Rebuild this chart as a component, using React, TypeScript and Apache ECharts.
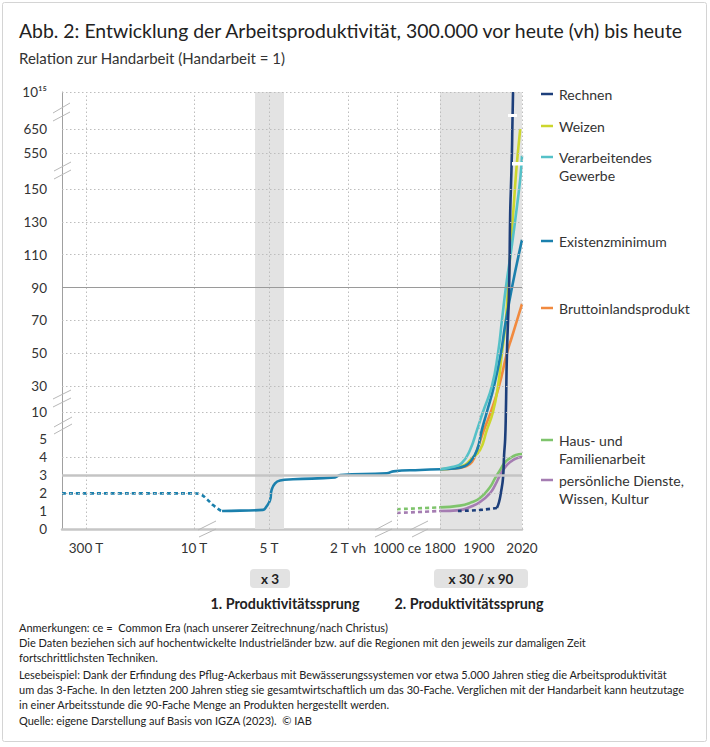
import React, { useEffect, useRef } from "react";
import * as echarts from "echarts";

// ---------- ticks ----------
const xTickYears = [-300000, -10000, -5000, -2000, 1000, 1800, 1900, 2020];
const xTickLabels = ["300 T", "10 T", "5 T", "2 T vh", "1000 ce", "1800", "1900", "2020"];
const yTickValues = [0, 1, 2, 3, 4, 5, 10, 30, 50, 70, 90, 110, 130, 150, 550, 650, 1e15];
const yTickLabels = ["0", "1", "2", "3", "4", "5", "10", "30", "50", "70", "90", "110", "130", "150", "550", "650", "10¹⁵"];
const yDottedGrid = [2, 4, 10, 30, 50, 70, 110, 130, 150, 550, 650, 1e15];

// ---------- data: years and productivity (Handarbeit = 1) ----------
const historyDashedYears = [-365000, -10000, -9600, -9130, -8730, -8270, -8130];
const historyDashedValues = [1.98, 1.98, 1.93, 1.65, 1.33, 1.05, 1.0];
const historySolidYears = [-8130, -6930, -5400, -5180, -4960, -4900, -4770, -4580, -4090, -2490, -2300, 370, 770, 1430, 1800];
const historySolidValues = [1.0, 1.02, 1.06, 1.24, 1.6, 2.17, 2.54, 2.69, 2.76, 2.87, 3.0, 3.09, 3.2, 3.28, 3.32];

const rechnenDashedYears = [1846, 1903, 1950];
const rechnenDashedValues = [1.0, 1.06, 1.17];
const rechnenYears = [1950, 1956, 1961, 1967, 1970, 1973, 1975, 1978, 1984, 1987, 1989, 1992, 1993, 1995];
const rechnenValues = [1.17, 1.5, 2.0, 2.83, 4.1, 5, 10, 50, 90, 135, 150, 560, 650, 1e15];

const weizenYears = [1800, 1838, 1864, 1882, 1903, 1922, 1939, 1953, 1964, 1975, 1981, 1989, 1998, 2003, 2009, 2015];
const weizenValues = [3.32, 3.39, 3.56, 3.94, 4.39, 6.7, 10, 30, 50, 70, 90, 116, 143, 305, 560, 650];

const gewerbeYears = [1800, 1831, 1856, 1877, 1895, 1911, 1936, 1953, 1964, 1975, 1992, 2008, 2016, 2020];
const gewerbeValues = [3.32, 3.44, 3.67, 4.39, 6.7, 10, 30, 50, 70, 90, 116, 143, 300, 520];

const existenzYears = [1800, 1838, 1864, 1877, 1895, 1908, 1922, 1942, 1961, 1973, 1992, 2020];
const existenzValues = [3.32, 3.36, 3.5, 3.72, 4.39, 6.7, 10, 30, 50, 67, 90, 119];

const bipYears = [1800, 1838, 1864, 1882, 1895, 1914, 1933, 1956, 1978, 1992, 2006, 2020];
const bipValues = [3.32, 3.36, 3.47, 3.72, 4.39, 6.7, 10, 30, 50, 60, 70, 80];

const hausDashedYears = [1000, 1800];
const hausDashedValues = [1.1, 1.2];
const hausYears = [1800, 1851, 1877, 1903, 1931, 1945, 1959, 1973, 1987, 2003, 2020];
const hausValues = [1.2, 1.3, 1.45, 1.72, 2.33, 2.83, 3.28, 3.72, 3.94, 4.11, 4.17];

const diensteDashedYears = [1000, 1800];
const diensteDashedValues = [0.89, 1.0];
const diensteYears = [1800, 1851, 1877, 1903, 1931, 1945, 1959, 1973, 1987, 2003, 2020];
const diensteValues = [1.0, 1.05, 1.22, 1.5, 2.0, 2.44, 3.0, 3.44, 3.72, 3.92, 4.0];

const bandYears = [[-5930, -4430], [1800, 2020]];

// ---------- scale definitions (broken axes) ----------
const XA_YEARS = [-365000, -300000, -10000, -5000, -2000, 1000, 1800, 1900, 2020];
const XA_POS = [62, 86, 194, 269, 348, 397, 440, 479, 522];
const YA_VALS = [0, 5, 10, 30, 150, 550, 650];
const YA_POS = [0, 90, 117, 143, 340, 376, 400];

function interp(xs: number[], ys: number[], v: number) {
  let i = 0;
  while (i < xs.length - 2 && v > xs[i + 1]) i++;
  const t = (v - xs[i]) / (xs[i + 1] - xs[i]);
  return ys[i] + t * (ys[i + 1] - ys[i]);
}
const xPos = (year: number) => interp(XA_YEARS, XA_POS, year);
const yPos = (v: number) => {
  if (v <= 650) return interp(YA_VALS, YA_POS, v);
  const t = Math.log(v / 650) / Math.log(1e15 / 650);
  return 400 + t * 37;
};
const pts = (years: number[], vals: number[]) => years.map((y, i) => [xPos(y), yPos(vals[i])]);

const FONT = "Lato, 'Noto Sans', sans-serif";
const TXT = "#333333";

const C = {
  rechnen: "#1d3f7b",
  weizen: "#ccd62d",
  gewerbe: "#55c1c8",
  existenz: "#1b80ad",
  bip: "#f18a3f",
  haus: "#7fc46c",
  dienste: "#a57db2",
};

function lineSeries(name: string, data: number[][], color: string, dashed = false, z = 3) {
  return {
    type: "line",
    name,
    data,
    showSymbol: false,
    symbol: "none",
    smooth: 0.5,
    z,
    lineStyle: { color, width: 2.6, type: dashed ? [4, 3] : "solid", cap: "butt", join: "round" },
    silent: true,
  };
}

export default function App() {
  const ref = useRef<HTMLDivElement>(null);
  useEffect(() => {
    if (!ref.current) return;
    const chart = echarts.init(ref.current, null, { renderer: "svg" });

    const dotted = { color: "#bdbdbd", width: 1, type: [1.5, 2.5] };
    const gridLines: any[] = [];
    yDottedGrid.forEach((v) => gridLines.push({ yAxis: yPos(v), lineStyle: dotted }));
    xTickYears.forEach((y) => gridLines.push({ xAxis: xPos(y), lineStyle: dotted }));
    gridLines.push({ yAxis: yPos(3), lineStyle: { color: "#c4c4c4", width: 2.5, type: "solid" } });
    gridLines.push({ yAxis: yPos(90), lineStyle: { color: "#9a9a9a", width: 1, type: "solid" } });

    const legendItems = [
      { text: "Rechnen", color: C.rechnen, y: 94 },
      { text: "Weizen", color: C.weizen, y: 126 },
      { text: "Verarbeitendes\nGewerbe", color: C.gewerbe, y: 157 },
      { text: "Existenzminimum", color: C.existenz, y: 241 },
      { text: "Bruttoinlandsprodukt", color: C.bip, y: 308 },
      { text: "Haus- und\nFamilienarbeit", color: C.haus, y: 440 },
      { text: "persönliche Dienste,\nWissen, Kultur", color: C.dienste, y: 480 },
    ];

    const breakMarks = [
      // y axis
      [53, 113, 70, 103], [53, 121, 70, 112],
      [54, 171, 71, 162], [54, 179, 71, 170],
      [53, 399, 71, 390], [53, 407, 71, 398],
      [54, 427, 72, 417], [54, 434, 72, 424],
      // x axis
      [198, 530, 216, 521], [199, 537, 216, 529],
      [375, 530, 392, 521], [375, 537, 392, 529],
      [410, 530, 428, 521], [412, 537, 428, 529],
    ];

    // small white gaps where lines cross the axis breaks
    const lineGaps = [
      [508, 114, 9, 3],
      [512, 162, 14, 3.5],
    ];

    const graphics: any[] = [
      {
        type: "rect",
        shape: { x: 2.5, y: 2.5, width: 704, height: 739, r: 2 },
        style: { fill: "none", stroke: "#d4d4d4", lineWidth: 1 },
        silent: true,
      },
      {
        type: "text",
        x: 19,
        y: 30,
        style: { text: "Abb. 2: Entwicklung der Arbeitsproduktivität, 300.000 vor heute (vh) bis heute", fill: "#222", font: `19.4px ${FONT}`, textVerticalAlign: "middle" },
      },
      {
        type: "text",
        x: 19,
        y: 58,
        style: { text: "Relation zur Handarbeit (Handarbeit = 1)", fill: TXT, font: `15px ${FONT}`, textVerticalAlign: "middle" },
      },
      ...lineGaps.map((g) => ({
        type: "rect",
        shape: { x: g[0], y: g[1], width: g[2], height: g[3] },
        style: { fill: "#ffffff" },
        silent: true,
        z: 9,
      })),
      ...breakMarks.map((m) => ({
        type: "line",
        shape: { x1: m[0], y1: m[1], x2: m[2], y2: m[3] },
        style: { stroke: "#b8b8b8", lineWidth: 1 },
        silent: true,
        z: 10,
      })),
      ...legendItems.flatMap((it) => [
        {
          type: "line",
          shape: { x1: 541, y1: it.y, x2: 553, y2: it.y },
          style: { stroke: it.color, lineWidth: 2.5 },
        },
        {
          type: "text",
          x: 559,
          y: it.y - 9,
          style: { text: it.text, fill: TXT, font: `14px ${FONT}`, lineHeight: 18, textVerticalAlign: "top" },
        },
      ]),
      {
        type: "rect",
        shape: { x: 250, y: 569, width: 40, height: 19, r: 4 },
        style: { fill: "#e2e2e2" },
      },
      {
        type: "text",
        x: 270,
        y: 578.5,
        style: { text: "x 3", fill: "#222", font: `bold 13.5px ${FONT}`, textAlign: "center", textVerticalAlign: "middle" },
      },
      {
        type: "rect",
        shape: { x: 434, y: 569, width: 94, height: 19, r: 4 },
        style: { fill: "#e2e2e2" },
      },
      {
        type: "text",
        x: 481,
        y: 578.5,
        style: { text: "x 30 / x 90", fill: "#222", font: `bold 13.5px ${FONT}`, textAlign: "center", textVerticalAlign: "middle" },
      },
      {
        type: "text",
        x: 285,
        y: 603,
        style: { text: "1. Produktivitätssprung", fill: "#222", font: `bold 14.3px ${FONT}`, textAlign: "center", textVerticalAlign: "middle" },
      },
      {
        type: "text",
        x: 469,
        y: 603,
        style: { text: "2. Produktivitätssprung", fill: "#222", font: `bold 14.3px ${FONT}`, textAlign: "center", textVerticalAlign: "middle" },
      },
      ...[
        ["Anmerkungen: ce =  Common Era (nach unserer Zeitrechnung/nach Christus)", 627],
        ["Die Daten beziehen sich auf hochentwickelte Industrieländer bzw. auf die Regionen mit den jeweils zur damaligen Zeit", 642],
        ["fortschrittlichsten Techniken.", 657],
        ["Lesebeispiel: Dank der Erfindung des Pflug-Ackerbaus mit Bewässerungssystemen vor etwa 5.000 Jahren stieg die Arbeitsproduktivität", 674],
        ["um das 3-Fache. In den letzten 200 Jahren stieg sie gesamtwirtschaftlich um das 30-Fache. Verglichen mit der Handarbeit kann heutzutage", 689],
        ["in einer Arbeitsstunde die 90-Fache Menge an Produkten hergestellt werden.", 704],
        ["Quelle: eigene Darstellung auf Basis von IGZA (2023).  © IAB", 720],
      ].map(([t, y]) => ({
        type: "text",
        x: 19,
        y: y as number,
        style: { text: t as string, fill: "#222", font: `11px ${FONT}`, textVerticalAlign: "middle" },
      })),
    ];

    const labelFor = (ticksPos: number[], labels: string[]) => (v: number) => {
      for (let i = 0; i < ticksPos.length; i++) if (Math.abs(ticksPos[i] - v) < 0.6) return labels[i];
      return "";
    };
    const xTickPos = xTickYears.map(xPos);
    const yTickPos = yTickValues.map(yPos);

    chart.setOption({
      animation: false,
      grid: { left: 62, right: 188, top: 92, bottom: 218 },
      xAxis: {
        type: "value",
        min: 62,
        max: 522,
        axisLine: { show: true, onZero: false, lineStyle: { color: "#c6c6c6", width: 2.5 } },
        axisTick: { show: false },
        splitLine: { show: false },
        axisLabel: {
          customValues: xTickPos,
          formatter: labelFor(xTickPos, xTickLabels),
          color: TXT,
          fontSize: 13.5,
          fontFamily: FONT,
          margin: 12,
          showMinLabel: true,
          showMaxLabel: true,
          hideOverlap: false,
        },
      },
      yAxis: {
        type: "value",
        min: 0,
        max: 437,
        axisLine: { show: true, lineStyle: { color: "#a0a0a0", width: 1 } },
        axisTick: { show: false },
        splitLine: { show: false },
        axisLabel: {
          customValues: yTickPos,
          formatter: labelFor(yTickPos, yTickLabels),
          color: TXT,
          fontSize: 13.5,
          fontFamily: FONT,
          margin: 15,
          hideOverlap: false,
        },
      },
      series: [
        {
          type: "line",
          name: "bands",
          data: [],
          z: 0,
          silent: true,
          markArea: {
            silent: true,
            itemStyle: { color: "#e3e3e3" },
            data: bandYears.map((b) => [{ xAxis: xPos(b[0]) }, { xAxis: xPos(b[1]) }]),
          },
        },
        {
          type: "line",
          name: "grid",
          data: [],
          z: 1,
          silent: true,
          markLine: {
            silent: true,
            symbol: "none",
            label: { show: false },
            data: gridLines,
          },
        },
        lineSeries("Historie gestrichelt", pts(historyDashedYears, historyDashedValues), C.existenz, true),
        lineSeries("Historie", pts(historySolidYears, historySolidValues), C.existenz),
        lineSeries("Haus gestrichelt", pts(hausDashedYears, hausDashedValues), C.haus, true),
        lineSeries("Dienste gestrichelt", pts(diensteDashedYears, diensteDashedValues), C.dienste, true),
        lineSeries("Haus- und Familienarbeit", pts(hausYears, hausValues), C.haus),
        lineSeries("persönliche Dienste, Wissen, Kultur", pts(diensteYears, diensteValues), C.dienste),
        lineSeries("Bruttoinlandsprodukt", pts(bipYears, bipValues), C.bip),
        lineSeries("Weizen", pts(weizenYears, weizenValues), C.weizen),
        lineSeries("Existenzminimum", pts(existenzYears, existenzValues), C.existenz),
        lineSeries("Verarbeitendes Gewerbe", pts(gewerbeYears, gewerbeValues), C.gewerbe),
        lineSeries("Rechnen gestrichelt", pts(rechnenDashedYears, rechnenDashedValues), C.rechnen, true),
        lineSeries("Rechnen", pts(rechnenYears, rechnenValues), C.rechnen),
      ],
      graphic: graphics,
    });

    return () => chart.dispose();
  }, []);

  return (
    <div
      ref={ref}
      style={{ position: "absolute", left: 0, top: 0, width: 710, height: 747, background: "#fff" }}
    />
  );
}
